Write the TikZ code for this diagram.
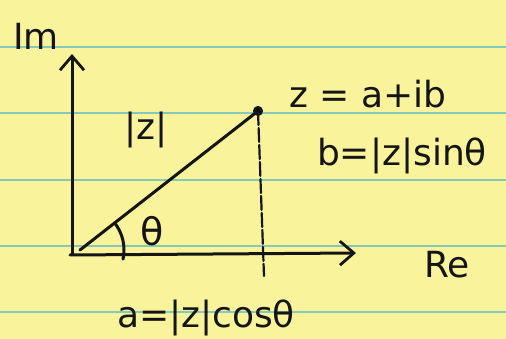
\documentclass[tikz,border=0pt]{standalone}
\usepackage{fontspec}
\setmainfont{DejaVu Sans}
\usetikzlibrary{arrows.meta}
\definecolor{paper}{HTML}{F9F39C}
\definecolor{rule}{HTML}{86C9B8}
\definecolor{ink}{HTML}{151515}
\tikzset{
  ink/.style={draw=ink, line width=3pt, line cap=round, line join=round},
  axisarrow/.style={ink, -{Straight Barb[length=14pt,width=24pt,line width=2.8pt]}},
  lbl/.style={text=ink, inner sep=0pt, font=\fontsize{36}{40}\selectfont}
}
\begin{document}
\begin{tikzpicture}[x=1pt,y=-1pt]
\fill[paper] (0,0) rectangle (506,339);
\useasboundingbox (0,0) rectangle (506,339);
\foreach \yy in {47,113,180,246,312} \draw[rule, line width=1.3pt] (0,\yy) -- (506,\yy);
\coordinate (O) at (72,254);
\coordinate (imtip) at (72,54);
\coordinate (retip) at (356,253);
\coordinate (Zs) at (80,250);
\coordinate (Z) at (258,111);
\coordinate (D) at (264,276);
\draw[axisarrow] (O) -- (imtip);
\draw[axisarrow] (70,255) -- (retip);
\draw[ink] (Zs) -- (Z);
\fill[ink] (Z) circle (3.5pt);
\draw[ink, line width=2.2pt, dash pattern=on 14pt off 3pt] (Z) -- (D);
\draw[ink] (Zs) ++(-38:44) arc[start angle=-38, end angle=12, radius=44];
\node[lbl] (im) at (36,36) {Im};
\node[lbl] (za) at (368,94) {z = a+ib};
\node[lbl] (absz) at (146,130) {|z|};
\node[lbl, font=\fontsize{38}{42}\selectfont] (th) at (152,231) {θ};
\node[lbl] (bb) at (402,156) {b=|z|sinθ};
\node[lbl] (re) at (447,265) {Re};
\node[lbl] (aa) at (206,318) {a=|z|cosθ};
\end{tikzpicture}
\end{document}
